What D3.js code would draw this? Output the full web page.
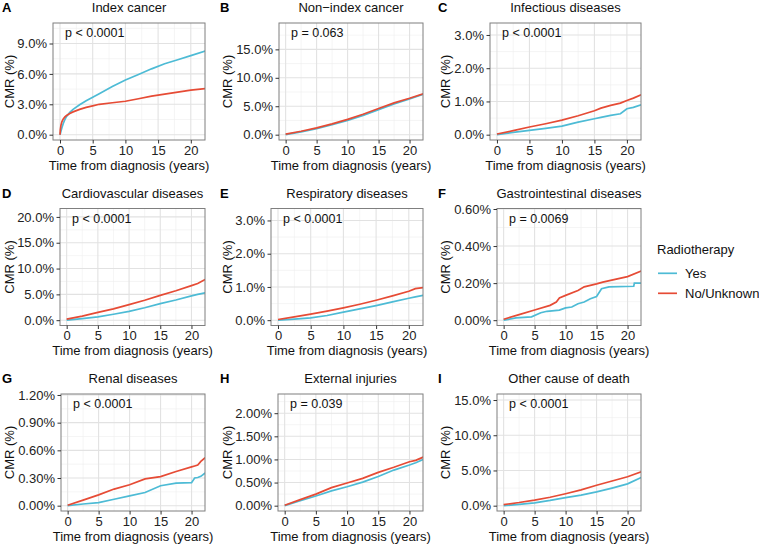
<!DOCTYPE html>
<html><head><meta charset="utf-8">
<script src="https://cdn.jsdelivr.net/npm/d3@7"></script>
<style>body{margin:0;background:#fff}text{font-family:"Liberation Sans",Arial,sans-serif}</style>
</head><body><svg id="c" width="759" height="547"></svg>
<script>
const titles = ["Index cancer","Non\u2212index cancer","Infectious diseases","Cardiovascular diseases","Respiratory diseases","Gastrointestinal diseases","Renal diseases","External injuries","Other cause of death"];
const letters = ["A","B","C","D","E","F","G","H","I"];
const pvals = ["p < 0.0001","p = 0.063","p < 0.0001","p < 0.0001","p < 0.0001","p = 0.0069","p < 0.0001","p = 0.039","p < 0.0001"];
const yMaxes = [10.5, 18.7, 3.2, 20.6, 3.2, 0.574, 1.153, 2.3, 15.1];
const yTicks = [[0,3,6,9],[0,5,10,15],[0,1,2,3],[0,5,10,15,20],[0,1,2,3],[0,0.2,0.4,0.6],[0,0.3,0.6,0.9,1.2],[0,0.5,1,1.5,2],[0,5,10,15]];
const yDigits = [1,1,1,1,1,2,2,2,1];
const xTicks = [0,5,10,15,20];
const groups = ["Yes","No/Unknown"];
const colors = ["#4DBBD5","#E64B35"];

// Panel A
const tA = [0,0.05,0.15,0.3,0.5,0.75,1,1.5,2,3,4,5,6,8,10,12,14,16,18,20,22.2];
const yesA = [0,0.1,0.35,0.7,1.1,1.5,1.8,2.2,2.5,2.95,3.35,3.7,4.05,4.75,5.4,5.95,6.5,7.0,7.4,7.8,8.25];
const noA = [0,0.5,0.95,1.3,1.55,1.75,1.9,2.1,2.25,2.5,2.7,2.85,3.0,3.15,3.3,3.55,3.8,4.0,4.2,4.4,4.55];
// Panel B
const tB = [0,2.5,5,7.5,10,12.5,15,17.5,20,22.2];
const yesB = [0,0.5,1.05,1.75,2.5,3.4,4.4,5.4,6.3,7.1];
const noB = [0.1,0.6,1.2,1.9,2.7,3.6,4.6,5.6,6.4,7.2];
// Panel C
const tC = [0,2.5,5,7.5,10,12.5,15,16,17.5,19,20,21,22.2];
const yesC = [0,0.07,0.13,0.19,0.26,0.38,0.48,0.52,0.58,0.63,0.78,0.82,0.9];
const noC = [0.02,0.12,0.23,0.33,0.44,0.57,0.72,0.8,0.88,0.95,1.03,1.1,1.2];
// Panel D
const tD = [0,2.5,5,7.5,10,12.5,15,17.5,20,21,22.2];
const yesD = [0,0.3,0.65,1.15,1.7,2.4,3.2,3.9,4.7,5.0,5.3];
const noD = [0.2,0.8,1.5,2.2,3.0,3.85,4.8,5.7,6.7,7.1,7.9];
// Panel E
const tE = [0,2.5,5,7.5,10,12.5,15,17.5,20,21,22.2];
const yesE = [0,0.03,0.07,0.14,0.24,0.34,0.44,0.55,0.66,0.7,0.75];
const noE = [0.02,0.1,0.18,0.27,0.37,0.48,0.6,0.73,0.87,0.95,0.98];
// Panel F
const tFyes = [0,2,4.5,6,7,9,10,11,12,13,14,15,15.8,17,21,21.1,22.2];
const yesF = [0,0.012,0.018,0.04,0.048,0.054,0.066,0.071,0.089,0.098,0.116,0.128,0.17,0.18,0.183,0.2,0.2];
const tFno = [0,2.5,5,7.5,8.5,9,10,12,13,15,16,18,20,22.2];
const noF = [0.005,0.03,0.055,0.08,0.098,0.12,0.134,0.16,0.18,0.196,0.205,0.22,0.235,0.265];
// Panel G
const tG = [0,2.5,5,7.5,10,12.5,15,17.5,20,20.5,21,21.5,22.2];
const yesG = [0,0.018,0.033,0.07,0.106,0.143,0.216,0.245,0.25,0.3,0.305,0.318,0.355];
const noG = [0.005,0.06,0.117,0.18,0.227,0.29,0.315,0.37,0.42,0.43,0.44,0.48,0.52];
// Panel H
const tH = [0,2.5,5,7.5,10,12.5,15,17.5,20,21,22.2];
const yesH = [0,0.107,0.21,0.32,0.41,0.51,0.63,0.77,0.88,0.93,1.0];
const noH = [0.01,0.13,0.25,0.39,0.49,0.59,0.72,0.83,0.95,0.98,1.05];
// Panel I
const tI = [0,2.5,5,7.5,10,12.5,15,17.5,20,22.2];
const yesI = [0,0.18,0.4,0.75,1.15,1.5,1.95,2.5,3.1,4.0];
const noI = [0.15,0.45,0.8,1.2,1.7,2.25,2.9,3.5,4.1,4.8];

const series = [
  [[tA,yesA],[tA,noA]],[[tB,yesB],[tB,noB]],[[tC,yesC],[tC,noC]],
  [[tD,yesD],[tD,noD]],[[tE,yesE],[tE,noE]],[[tFyes,yesF],[tFno,noF]],
  [[tG,yesG],[tG,noG]],[[tH,yesH],[tH,noH]],[[tI,yesI],[tI,noI]]
];

// layout
const colX = [0,218,436];
const rowY = [0,185.5,371];
const leftOff = [53,61,54,60,53,61,61,60,61];
const svg = d3.select("#c");
const FS = 13;

series.forEach((ser,i)=>{
  const c = i%3, r = Math.floor(i/3);
  const x0 = colX[c]+leftOff[i], x1 = colX[c]+205;
  const y0 = rowY[r]+23, y1 = rowY[r]+140;
  const R = yMaxes[i];
  const x = d3.scaleLinear().domain([-1.07,22.17]).range([x0,x1]);
  const y = d3.scaleLinear().domain([-0.05*R,1.05*R]).range([y1,y0]);
  const g = svg.append("g");
  const step = yTicks[i][1]-yTicks[i][0];
  const minorY = [];
  for (let v = step/2; v < 1.05*R; v += step) minorY.push(v);
  const minorX = [2.5,7.5,12.5,17.5];
  g.append("rect").attr("x",x0).attr("y",y0).attr("width",x1-x0).attr("height",y1-y0).attr("fill","#fff");
  g.selectAll(".mx").data(minorX).join("line").attr("x1",d=>x(d)).attr("x2",d=>x(d)).attr("y1",y0).attr("y2",y1).attr("stroke","#efefef").attr("stroke-width",0.6);
  g.selectAll(".my").data(minorY).join("line").attr("y1",d=>y(d)).attr("y2",d=>y(d)).attr("x1",x0).attr("x2",x1).attr("stroke","#efefef").attr("stroke-width",0.6);
  g.selectAll(".Mx").data(xTicks).join("line").attr("x1",d=>x(d)).attr("x2",d=>x(d)).attr("y1",y0).attr("y2",y1).attr("stroke","#e2e2e2").attr("stroke-width",1.1);
  g.selectAll(".My").data(yTicks[i]).join("line").attr("y1",d=>y(d)).attr("y2",d=>y(d)).attr("x1",x0).attr("x2",x1).attr("stroke","#e2e2e2").attr("stroke-width",1.1);
  const clipId = "clip"+i;
  svg.append("clipPath").attr("id",clipId).append("rect").attr("x",x0).attr("y",y0).attr("width",x1-x0).attr("height",y1-y0);
  const line = d3.line().x(d=>x(d[0])).y(d=>y(d[1]));
  ser.forEach((s,k)=>{
    const pts = s[0].map((t,j)=>[t,s[1][j]]);
    g.append("path").attr("d",line(pts)).attr("fill","none").attr("stroke",colors[k]).attr("stroke-width",1.7).attr("clip-path",`url(#${clipId})`);
  });
  g.append("rect").attr("x",x0).attr("y",y0).attr("width",x1-x0).attr("height",y1-y0).attr("fill","none").attr("stroke","#7f7f7f").attr("stroke-width",1);
  const fmt = v => v.toFixed(yDigits[i])+"%";
  const ya = g.append("g").attr("transform",`translate(${x0},0)`).call(d3.axisLeft(y).tickValues(yTicks[i]).tickFormat(fmt).tickSizeOuter(0).tickSize(3.5).tickPadding(2.5));
  ya.select(".domain").remove();
  ya.selectAll(".tick line").attr("stroke","#333");
  ya.selectAll("text").attr("font-size",FS).attr("fill","#222").attr("font-family",null);
  const xa = g.append("g").attr("transform",`translate(0,${y1})`).call(d3.axisBottom(x).tickValues(xTicks).tickSizeOuter(0).tickSize(3.5).tickPadding(2));
  xa.select(".domain").remove();
  xa.selectAll(".tick line").attr("stroke","#333");
  xa.selectAll("text").attr("font-size",FS).attr("fill","#222").attr("font-family",null);
  g.append("text").attr("x",(x0+x1)/2).attr("y",rowY[r]+12).attr("text-anchor","middle").attr("font-size",FS).attr("fill","#111").text(titles[i]);
  g.append("text").attr("x",colX[c]+2).attr("y",rowY[r]+12).attr("font-size",13).attr("font-weight","bold").attr("fill","#000").text(letters[i]);
  g.append("text").attr("x",(x0+x1)/2).attr("y",rowY[r]+169.5).attr("text-anchor","middle").attr("font-size",FS).attr("fill","#111").text("Time from diagnosis (years)");
  g.append("text").attr("transform",`translate(${colX[c]+13.5},${(y0+y1)/2}) rotate(-90)`).attr("text-anchor","middle").attr("font-size",FS).attr("fill","#111").text("CMR (%)");
  g.append("text").attr("x",x0+12).attr("y",y0+14).attr("font-size",12.5).attr("fill","#111").text(pvals[i]);
});

const lg = svg.append("g");
lg.append("text").attr("x",657).attr("y",253.5).attr("font-size",FS).attr("fill","#111").text("Radiotherapy");
groups.forEach((gname,k)=>{
  const yy = 273.3 + k*20;
  lg.append("line").attr("x1",658).attr("x2",677).attr("y1",yy).attr("y2",yy).attr("stroke",colors[k]).attr("stroke-width",1.7);
  lg.append("text").attr("x",685).attr("y",yy+4.5).attr("font-size",FS).attr("fill","#111").text(gname);
});
</script></body></html>
